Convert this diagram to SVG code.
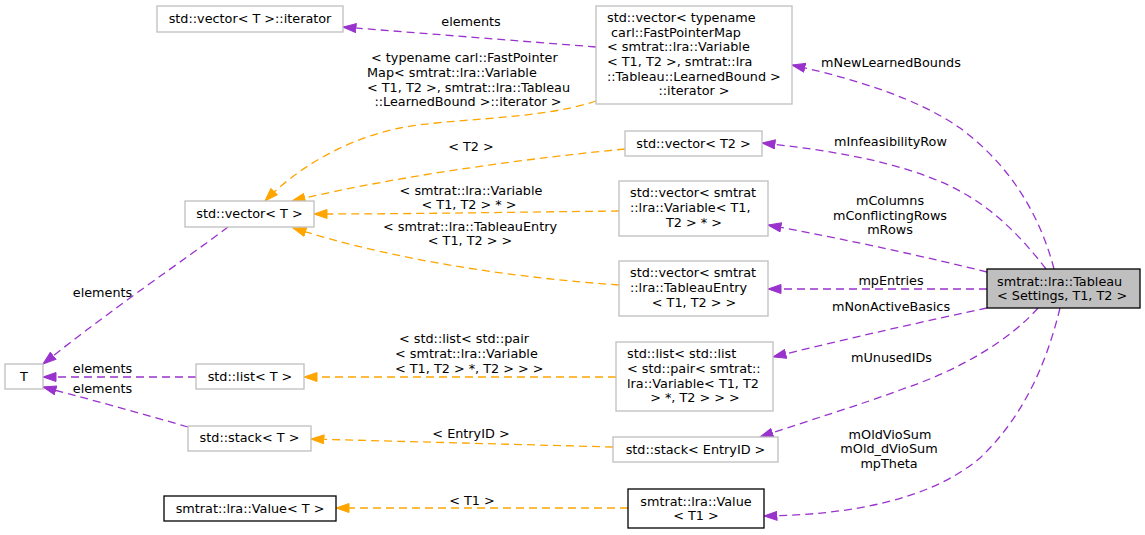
<svg xmlns="http://www.w3.org/2000/svg" width="1145" height="535" viewBox="0 0 1145 535">
<style>
text{font-family:"DejaVu Sans","Liberation Sans",sans-serif;font-size:12.8px;fill:#000}
.m{text-anchor:middle}
.s{text-anchor:start}
.n{fill:#fff;stroke:#bfbfbf;stroke-width:1.3}
.d{fill:#fff;stroke:#000;stroke-width:1.3}
.c{fill:#bfbfbf;stroke:#000;stroke-width:1.3}
.p{fill:none;stroke:#9a32cd;stroke-width:1.3;stroke-dasharray:8,5}
.o{fill:none;stroke:#ffa500;stroke-width:1.3;stroke-dasharray:8,5}
</style>
<defs>
<marker id="ap" markerUnits="userSpaceOnUse" markerWidth="16" markerHeight="12" refX="13.5" refY="5" orient="auto"><path d="M0.5,0.5 L13.5,5 L0.5,9.5 z" fill="#9a32cd" stroke="#9a32cd"/></marker>
<marker id="ao" markerUnits="userSpaceOnUse" markerWidth="16" markerHeight="12" refX="13.5" refY="5" orient="auto"><path d="M0.5,0.5 L13.5,5 L0.5,9.5 z" fill="#ffa500" stroke="#ffa500"/></marker>
</defs>
<g id="connectors">
<path class="p" marker-end="url(#ap)" d="M596,47 L343,27"/>
<path class="o" marker-end="url(#ao)" d="M596,101 C540,120 450,118 400,128 C350,138 300,165 265,201"/>
<path class="o" marker-end="url(#ao)" d="M625,149 C540,157 400,175 292,201"/>
<path class="o" marker-end="url(#ao)" d="M619,211 C520,212 420,214 314,214"/>
<path class="o" marker-end="url(#ao)" d="M619,285 C520,278 400,262 293,228"/>
<path class="o" marker-end="url(#ao)" d="M616,377 L304,377"/>
<path class="o" marker-end="url(#ao)" d="M613,447 L311,439"/>
<path class="o" marker-end="url(#ao)" d="M628,508 L336,508"/>
<path class="p" marker-end="url(#ap)" d="M228,227 C190,256 110,310 43,364"/>
<path class="p" marker-end="url(#ap)" d="M196,377 L43,377"/>
<path class="p" marker-end="url(#ap)" d="M188,427 C150,416 100,402 43,387"/>
<path class="p" marker-end="url(#ap)" d="M1054,269 C1040,215 1010,165 960,128 C920,100 860,80 792,65"/>
<path class="p" marker-end="url(#ap)" d="M1046,269 C1020,235 990,205 950,186 C900,162 830,150 762,143"/>
<path class="p" marker-end="url(#ap)" d="M987,272 C930,258 850,240 768,225"/>
<path class="p" marker-end="url(#ap)" d="M987,289 L768,289"/>
<path class="p" marker-end="url(#ap)" d="M987,308 C930,320 850,338 773,357"/>
<path class="p" marker-end="url(#ap)" d="M1038,308 C1010,340 960,370 900,390 C860,405 810,420 760,437"/>
<path class="p" marker-end="url(#ap)" d="M1060,308 C1045,370 1020,420 980,458 C930,500 850,515 764,516"/>
<text class="m" x="471" y="25.5">elements</text>
<text class="s" x="371" y="62">&lt; typename carl::FastPointer</text>
<text class="s" x="367" y="77">Map&lt; smtrat::lra::Variable</text>
<text class="s" x="367" y="91.5">&lt; T1, T2 &gt;, smtrat::lra::Tableau</text>
<text class="m" x="468" y="106">::LearnedBound &gt;::iterator &gt;</text>
<text class="m" x="471" y="151">&lt; T2 &gt;</text>
<text class="m" x="471" y="194.5">&lt; smtrat::lra::Variable</text>
<text class="m" x="469" y="209">&lt; T1, T2 &gt; * &gt;</text>
<text class="m" x="470" y="231">&lt; smtrat::lra::TableauEntry</text>
<text class="m" x="470" y="245">&lt; T1, T2 &gt; &gt;</text>
<text class="s" x="399" y="343">&lt; std::list&lt; std::pair</text>
<text class="s" x="395" y="358">&lt; smtrat::lra::Variable</text>
<text class="s" x="395" y="373">&lt; T1, T2 &gt; *, T2 &gt; &gt; &gt;</text>
<text class="m" x="471" y="438">&lt; EntryID &gt;</text>
<text class="m" x="472" y="504.5">&lt; T1 &gt;</text>
<text class="m" x="102.5" y="297">elements</text>
<text class="m" x="102.5" y="373">elements</text>
<text class="m" x="102.5" y="393">elements</text>
<text class="m" x="891" y="67">mNewLearnedBounds</text>
<text class="m" x="890.5" y="146">mInfeasibilityRow</text>
<text class="m" x="890" y="205">mColumns</text>
<text class="m" x="890" y="219.5">mConflictingRows</text>
<text class="m" x="890" y="234">mRows</text>
<text class="m" x="891" y="285">mpEntries</text>
<text class="m" x="891" y="311">mNonActiveBasics</text>
<text class="m" x="891.5" y="362">mUnusedIDs</text>
<text class="m" x="890" y="438.5">mOldVioSum</text>
<text class="m" x="889" y="453">mOld_dVioSum</text>
<text class="m" x="889" y="467.5">mpTheta</text>
</g>
<g id="tableau"><rect class="c" x="987" y="269" width="153" height="39"/><text class="s" x="997" y="285.5">smtrat::lra::Tableau</text><text class="s" x="997" y="300">&lt; Settings, T1, T2 &gt;</text></g>
<g id="vec_iter"><rect class="n" x="157" y="6" width="186" height="26"/><text class="m" x="250" y="23">std::vector&lt; T &gt;::iterator</text></g>
<g id="vec_fpm_iter"><rect class="n" x="596" y="6" width="196" height="98"/>
<text class="s" x="607" y="22">std::vector&lt; typename</text>
<text class="s" x="611" y="36.7">carl::FastPointerMap</text>
<text class="s" x="607" y="51.3">&lt; smtrat::lra::Variable</text>
<text class="s" x="607" y="66">&lt; T1, T2 &gt;, smtrat::lra</text>
<text class="s" x="607" y="80.7">::Tableau::LearnedBound &gt;</text>
<text class="m" x="694" y="95.3">::iterator &gt;</text></g>
<g id="vec_t2"><rect class="n" x="625" y="131" width="137" height="25"/><text class="m" x="693.5" y="147.5">std::vector&lt; T2 &gt;</text></g>
<g id="vec_var"><rect class="n" x="619" y="181" width="149" height="55"/>
<text class="s" x="630" y="197">std::vector&lt; smtrat</text>
<text class="s" x="630" y="212">::lra::Variable&lt; T1,</text>
<text class="m" x="694" y="226.5">T2 &gt; * &gt;</text></g>
<g id="vec_entry"><rect class="n" x="619" y="261" width="149" height="55"/>
<text class="s" x="630" y="277">std::vector&lt; smtrat</text>
<text class="s" x="630" y="292">::lra::TableauEntry</text>
<text class="m" x="694" y="306.5">&lt; T1, T2 &gt; &gt;</text></g>
<g id="list_list"><rect class="n" x="616" y="342" width="157" height="69"/>
<text class="s" x="627" y="358">std::list&lt; std::list</text>
<text class="s" x="627" y="373">&lt; std::pair&lt; smtrat::</text>
<text class="s" x="627" y="387.5">lra::Variable&lt; T1, T2</text>
<text class="m" x="695" y="402">&gt; *, T2 &gt; &gt; &gt;</text></g>
<g id="stack_entry"><rect class="n" x="613" y="437" width="165" height="25"/><text class="m" x="695.5" y="453.5">std::stack&lt; EntryID &gt;</text></g>
<g id="value_t1"><rect class="d" x="628" y="489" width="136" height="39"/><text class="m" x="696" y="505.5">smtrat::lra::Value</text><text class="m" x="696" y="520">&lt; T1 &gt;</text></g>
<g id="vec_t"><rect class="n" x="185" y="201" width="129" height="26"/><text class="m" x="249.5" y="218">std::vector&lt; T &gt;</text></g>
<g id="t"><rect class="n" x="5" y="364" width="38" height="25"/><text class="m" x="24" y="381">T</text></g>
<g id="list_t"><rect class="n" x="196" y="364" width="108" height="25"/><text class="m" x="250" y="381">std::list&lt; T &gt;</text></g>
<g id="stack_t"><rect class="n" x="188" y="426" width="123" height="25"/><text class="m" x="249.5" y="442">std::stack&lt; T &gt;</text></g>
<g id="value_t"><rect class="d" x="164" y="496" width="172" height="25"/><text class="m" x="250" y="513">smtrat::lra::Value&lt; T &gt;</text></g>
</svg>
